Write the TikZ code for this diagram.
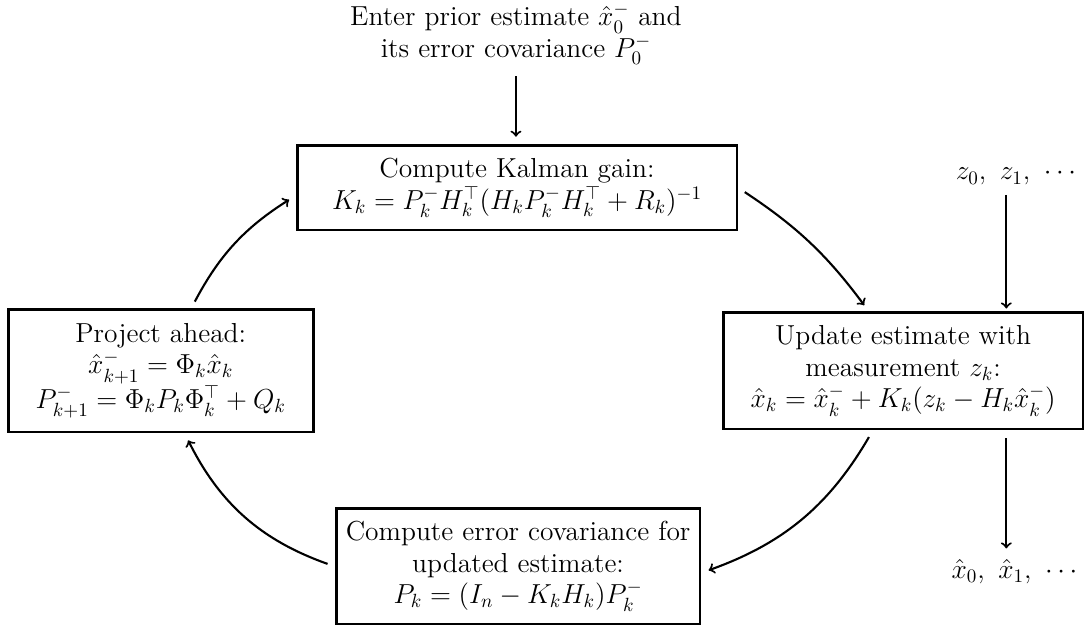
\documentclass[tikz,border=0pt]{standalone}
\usepackage{amsmath}
\begin{document}
\begin{tikzpicture}[
    >=to,
    every node/.style={font=\fontsize{14.4}{16.5}\selectfont},
    stepbox/.style={
        draw=black,
        line width=1.5pt,
        align=center,
        inner sep=2pt
    },
    plain/.style={
        align=center,
        inner sep=2pt
    },
    arr/.style={->, line width=1.1pt, draw=black, shorten <=4pt, shorten >=4pt}
]
    \useasboundingbox (0,0) rectangle (19.96,-11.53);

    \node[plain] (prior) at (9.50,-0.63) {Enter prior estimate $\hat{x}_0^-$ and\\its error covariance $P_0^-$};

    \node[stepbox, minimum width=8.1cm, minimum height=1.55cm] (gain) at (9.52,-3.46)
        {Compute Kalman gain:\\$K_k = P_k^- H_k^\top (H_k P_k^- H_k^\top + R_k)^{-1}$};

    \node[plain] (meas) at (18.75,-3.25) {$z_0,\ z_1,\ \cdots$};
    \coordinate (zin) at (18.53,-3.45);

    \node[stepbox, minimum width=6.63cm, minimum height=2.14cm] (update) at (16.63,-6.83)
        {Update estimate with\\measurement $z_k$:\\$\hat{x}_k = \hat{x}_k^- + K_k(z_k - H_k \hat{x}_k^-)$};

    \node[plain] (est) at (18.72,-10.53) {$\hat{x}_0,\ \hat{x}_1,\ \cdots$};
    \coordinate (xout) at (18.53,-10.24);

    \node[stepbox, minimum width=6.7cm, minimum height=2.12cm] (cov) at (9.54,-10.43)
        {Compute error covariance for\\updated estimate:\\$P_k = (I_n - K_k H_k) P_k^-$};

    \node[stepbox, minimum width=5.62cm, minimum height=2.25cm] (project) at (2.96,-6.83)
        {Project ahead:\\$\hat{x}_{k+1}^- = \Phi_k \hat{x}_k$\\$P_{k+1}^- = \Phi_k P_k \Phi_k^\top + Q_k$};

    \draw[arr] (prior) -- (prior |- gain.north);
    \draw[arr, shorten >=1.5pt] (zin) -- (zin |- update.north);
    \draw[arr] (update.south -| xout) -- (xout);

    \draw[arr] (gain.east) to[bend left=10] (update.120);
    \draw[arr] (update.243) to[bend left=20] (cov.358);
    \draw[arr] (cov.west) to[bend left=22] (project.291);
    \draw[arr] (project.64) to[bend left=15] (gain.182);
\end{tikzpicture}
\end{document}
